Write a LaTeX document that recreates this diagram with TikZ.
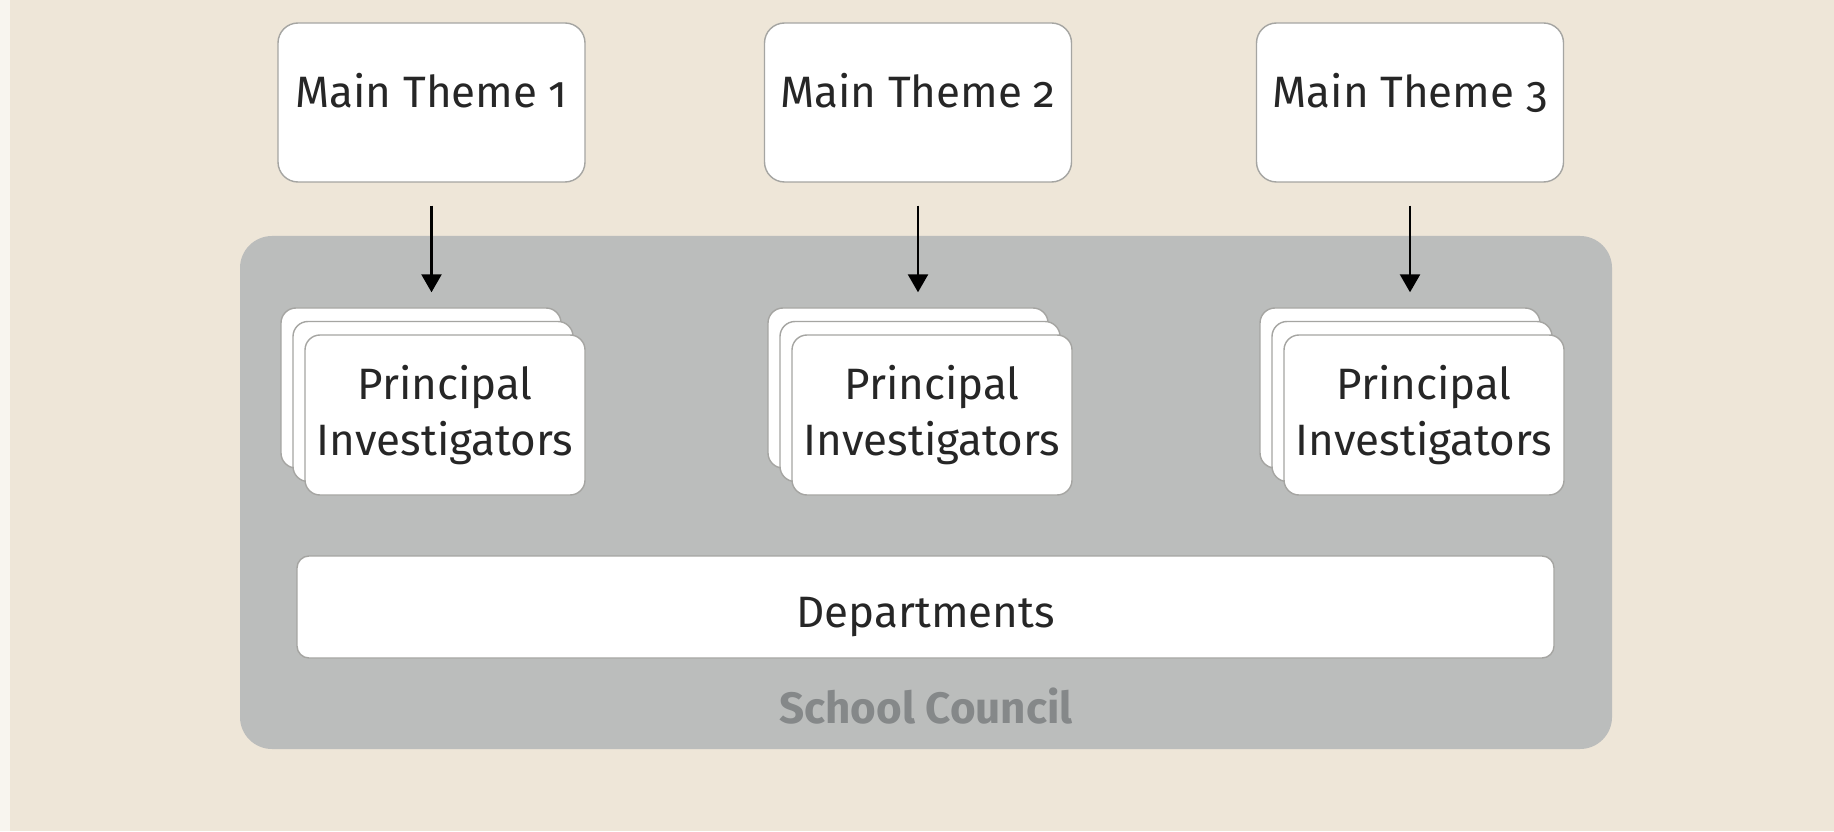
\documentclass[tikz,border=0pt]{standalone}
\usepackage{fontspec}
\setmainfont{Fira Sans}[Numbers=OldStyle]
\usepackage{xcolor}
\usetikzlibrary{positioning,calc,arrows.meta}
\definecolor{paper}{RGB}{238,230,216}
\definecolor{council}{RGB}{187,189,188}
\definecolor{councilText}{RGB}{133,136,137}
\definecolor{edge}{RGB}{165,165,162}

\begin{document}
\begin{tikzpicture}[font=\fontsize{12.5}{16}\selectfont, text=black!85,
        theme/.style={draw=edge, fill=white, rounded corners=2mm, minimum width=3.07cm, minimum height=1.59cm, inner sep=0pt, text height=0.35cm, text depth=0.24cm},
        card/.style={draw=edge, fill=white, rounded corners=1.5mm, minimum width=2.8cm, minimum height=1.6cm, inner sep=0pt, align=center},
        arr/.style={-{Triangle[length=1.8mm,width=2mm]}, line width=0.7pt, shorten <=2.3mm, shorten >=1.5mm}]
        % Background
        \fill[paper] (0,0) rectangle (18.34,8.31);
        \fill[white!60!paper] (0,0) rectangle (0.1,8.31);
        \useasboundingbox (0,0) rectangle (18.34,8.31);

        % School Council
        \fill[council, rounded corners=3.2mm] (2.40,0.82) rectangle (16.12,5.95);
        \node[text=councilText, font=\fontsize{12.5}{15}\selectfont\bfseries] (council) at (9.26,1.25) {School Council};

        % Departments
        \node[draw=edge, fill=white, rounded corners=1.2mm, minimum width=12.57cm, minimum height=1.02cm, inner sep=0pt, text height=0.4cm, text depth=0cm] (dept) at (9.255,2.24) {Departments};

        % Main themes
        \node[theme] (t1) at (4.315,7.285) {Main Theme 1};
        \node[theme] (t2) at (9.18,7.285) {Main Theme 2};
        \node[theme] (t3) at (14.10,7.285) {Main Theme 3};

        % Principal investigators (three cards each)
        \foreach \i/\x in {1/4.45, 2/9.32, 3/14.24} {
            \node[card] (back\i) at (\x-0.24,4.43) {};
            \node[card] (mid\i) at (\x-0.12,4.295) {};
            \node[card] (pi\i) at (\x,4.16) {Principal\\Investigators};
        }

        % Connections
        \foreach \i in {1,2,3}
            \draw[arr] (t\i.south) -- (t\i.south |- back\i.north);
    \end{tikzpicture}
\end{document}
